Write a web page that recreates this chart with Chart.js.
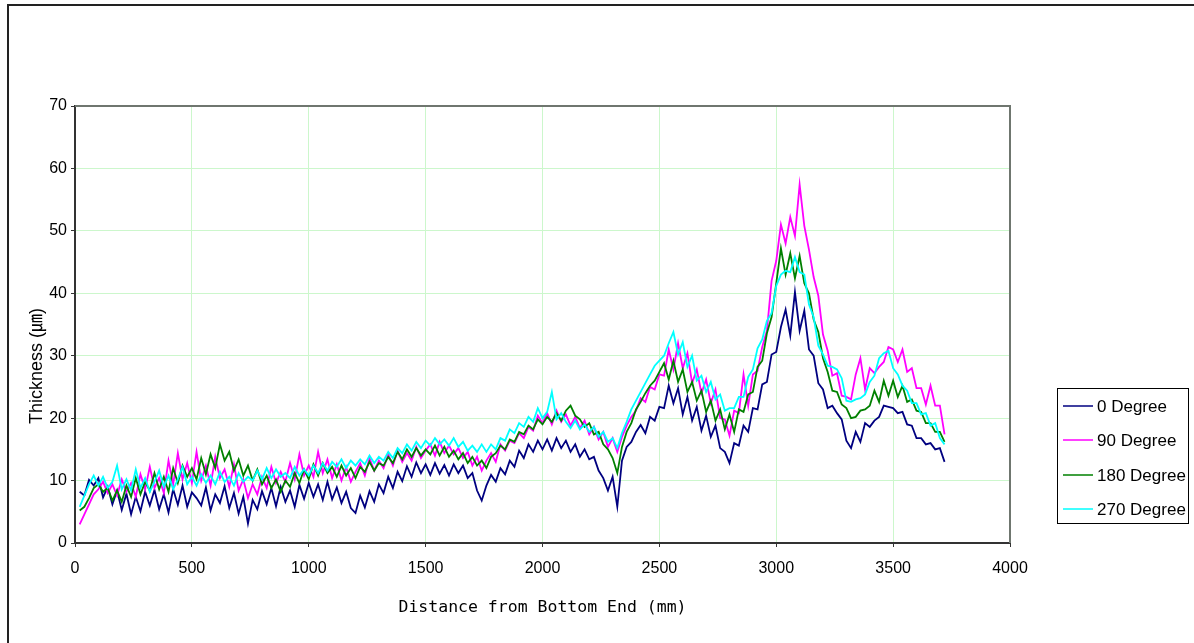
<!DOCTYPE html>
<html>
<head>
<meta charset="utf-8">
<script src="https://cdn.jsdelivr.net/npm/chart.js@4/dist/chart.umd.min.js"></script>
<style>
  html, body { margin: 0; padding: 0; background: #fff; }
  #wrap { position: relative; width: 1194px; height: 643px; }
</style>
</head>
<body>
<div id="wrap"><canvas id="c"></canvas></div>
<script>
// ---- data ----
const distances = [
  20,40,60,80,100,120,140,160,180,200,220,240,260,280,300,320,340,360,380,400,420,440,460,480,500,
  520,540,560,580,600,620,640,660,680,700,720,740,760,780,800,820,840,860,880,900,920,940,960,980,1000,
  1020,1040,1060,1080,1100,1120,1140,1160,1180,1200,1220,1240,1260,1280,1300,1320,1340,1360,1380,1400,1420,1440,1460,1480,1500,
  1520,1540,1560,1580,1600,1620,1640,1660,1680,1700,1720,1740,1760,1780,1800,1820,1840,1860,1880,1900,1920,1940,1960,1980,2000,
  2020,2040,2060,2080,2100,2120,2140,2160,2180,2200,2220,2240,2260,2280,2300,2320,2340,2360,2380,2400,2420,2440,2460,2480,2500,
  2520,2540,2560,2580,2600,2620,2640,2660,2680,2700,2720,2740,2760,2780,2800,2820,2840,2860,2880,2900,2920,2940,2960,2980,3000,
  3020,3040,3060,3080,3100,3120,3140,3160,3180,3200,3220,3240,3260,3280,3300,3320,3340,3360,3380,3400,3420,3440,3460,3480,3500,
  3520,3540,3560,3580,3600,3620,3640,3660,3680,3700,3720
];

const deg0 = [
  8.2,7.6,10.1,9.2,10.4,7.3,9.0,6.2,8.4,5.3,7.9,4.6,7.4,5.1,8.2,6.0,8.5,5.4,7.8,4.9,8.6,6.1,9.2,5.8,8.1,
  7.2,6.0,8.9,5.2,7.8,6.4,9.1,5.6,8.0,4.7,7.4,3.1,6.9,5.4,8.3,6.2,8.8,5.9,9.0,6.6,8.4,5.8,9.3,7.1,9.6,
  7.4,9.4,6.9,9.8,7.0,8.9,6.4,8.2,5.6,4.8,7.6,5.7,8.3,6.6,9.4,8.0,10.6,8.8,11.4,9.9,12.3,10.6,12.9,11.2,12.6,
  10.9,12.8,11.1,12.5,10.8,12.6,11.2,12.4,10.4,11.2,8.4,6.8,9.2,10.9,9.8,12.0,11.0,13.2,12.2,14.8,13.6,15.8,14.6,16.4,15.0,
  16.6,14.8,16.8,15.2,16.4,14.6,15.8,13.8,15.0,13.4,13.8,11.6,10.4,8.4,10.6,5.8,13.2,15.4,16.2,17.8,18.9,17.6,20.2,19.6,21.8,
  21.6,25.2,22.4,24.8,20.6,23.4,19.6,21.8,18.0,20.4,17.0,18.8,15.2,14.6,12.8,16.0,15.6,18.8,17.8,21.6,21.4,25.4,25.8,30.2,30.6,
  34.6,37.4,33.2,40.2,34.0,37.2,31.0,30.0,25.6,24.6,21.6,22.0,20.8,19.8,16.4,15.2,17.8,16.2,19.2,18.6,19.6,20.2,22.0,21.8,21.6,
  20.8,21.0,19.0,18.8,16.8,16.8,15.8,16.0,15.0,15.2,13.0
];

const deg90 = [
  3.0,4.6,6.2,7.8,8.6,9.8,8.0,9.4,7.6,10.2,8.2,9.6,7.4,11.0,8.6,12.2,8.8,10.4,8.0,13.2,9.4,14.4,10.2,12.8,9.6,
  14.6,10.0,12.4,9.2,13.8,10.4,11.8,9.0,12.6,8.4,10.2,7.2,9.4,7.8,10.6,8.8,12.2,9.6,11.4,9.8,12.8,10.2,14.2,10.8,12.4,
  10.6,14.6,11.2,13.4,10.4,12.6,10.0,12.2,9.8,11.4,12.8,10.8,13.6,11.6,13.2,12.0,14.2,12.4,14.8,13.0,14.4,13.2,15.4,13.6,14.8,
  15.8,14.0,16.2,14.4,15.6,14.2,15.2,13.6,14.6,12.4,13.8,11.6,13.2,14.4,13.0,15.8,14.8,16.4,16.0,17.6,16.8,18.6,18.0,20.4,19.2,
  20.8,19.0,21.2,19.4,20.6,18.8,20.2,18.4,19.6,17.4,18.6,16.6,17.8,15.4,16.8,14.6,17.0,18.8,20.2,21.2,23.2,22.6,25.0,24.6,27.0,
  26.8,31.0,27.8,32.0,28.0,30.4,25.6,27.8,24.0,26.2,22.4,24.6,20.0,19.8,17.2,21.2,20.8,27.0,22.0,27.0,27.6,31.4,34.0,42.0,45.2,
  51.0,48.0,52.2,49.2,57.4,50.8,47.0,42.6,39.6,33.4,30.8,26.8,27.2,23.6,23.4,23.0,27.0,29.6,24.6,28.0,27.2,28.2,29.0,31.4,31.0,
  29.0,31.0,27.4,28.0,24.8,24.8,22.2,25.2,22.0,22.0,17.4
];

const deg180 = [
  5.2,5.8,7.2,8.8,9.4,8.2,8.8,6.8,8.4,6.6,9.2,7.4,10.4,7.8,9.8,8.4,11.2,8.6,10.6,8.2,12.0,9.6,12.4,10.6,12.0,
  10.2,13.6,11.0,14.2,12.0,15.8,13.2,14.6,11.6,13.4,10.8,12.4,10.0,11.8,9.4,10.8,8.8,10.2,8.2,10.0,9.0,11.2,9.6,11.8,10.2,
  12.6,10.8,12.8,11.2,12.2,10.6,12.4,10.8,12.0,10.4,12.2,11.4,13.0,11.6,12.8,12.4,13.8,12.8,14.6,13.4,15.0,13.8,15.2,14.0,15.0,
  14.2,15.6,14.0,15.4,13.8,14.8,13.4,14.4,12.8,13.8,12.4,13.2,12.0,13.8,14.4,15.6,15.0,16.6,16.2,17.8,17.4,18.8,18.2,19.8,19.0,
  20.2,19.4,20.8,19.6,21.2,22.0,20.4,19.8,18.6,19.2,17.4,17.8,15.8,15.0,13.6,11.2,15.4,17.8,19.2,21.4,22.6,24.0,25.2,26.0,27.4,
  28.8,26.2,29.2,25.8,27.8,24.2,25.8,22.8,24.4,21.0,22.8,19.6,21.4,18.2,20.6,17.8,21.4,21.0,23.8,24.2,28.2,29.2,33.6,36.2,41.6,
  47.2,43.0,46.4,42.4,46.0,41.6,40.0,35.8,33.8,29.6,27.4,24.4,24.2,22.2,21.6,20.0,20.2,21.2,21.4,22.0,24.4,22.6,26.0,23.6,26.0,
  23.4,25.2,22.6,23.0,21.2,21.0,19.2,19.2,17.8,17.8,16.2
];

const deg270 = [
  5.8,7.6,9.4,10.8,9.2,10.6,8.8,9.8,12.4,8.6,10.2,8.4,11.8,8.8,10.4,8.2,9.8,11.6,9.0,10.8,8.6,10.2,12.2,9.4,10.6,
  9.2,11.0,9.6,10.8,9.4,11.4,9.8,10.6,9.2,11.2,9.8,10.6,10.0,11.6,10.2,12.0,10.4,11.8,10.6,11.2,10.4,12.2,10.8,11.8,10.8,
  12.4,11.2,12.8,11.6,13.0,12.2,13.4,12.0,13.2,12.4,13.4,12.6,14.0,12.8,13.8,13.2,14.6,13.6,15.2,14.4,15.8,14.8,16.2,15.2,16.4,
  15.6,16.8,15.8,16.6,15.6,16.8,15.4,16.2,14.8,15.6,14.6,15.8,14.6,15.8,15.0,16.8,16.4,18.2,17.6,19.2,18.6,20.2,19.4,21.6,20.0,
  21.0,24.2,19.8,20.8,19.4,18.4,19.6,18.2,19.0,17.8,18.6,17.0,17.8,16.2,16.8,15.2,17.6,19.4,21.4,22.8,24.2,25.6,27.0,28.4,29.2,
  30.0,32.0,33.8,30.2,32.2,28.2,30.0,26.0,26.8,24.2,25.8,23.0,23.8,21.2,21.6,21.6,23.4,23.4,26.6,27.8,31.2,32.6,35.6,36.8,41.2,
  43.0,43.6,43.4,45.8,43.4,43.0,38.2,36.2,31.6,30.2,28.4,28.2,27.8,26.4,22.8,22.6,23.0,23.2,23.8,25.8,26.8,29.6,30.4,30.8,28.0,
  27.0,25.2,24.4,22.4,22.4,20.6,20.8,18.8,19.2,16.8,15.8
];

const seriesNames = ['0 Degree', '90 Degree', '180 Degree', '270 Degree'];
const seriesColors = ['#000080', '#FF00FF', '#008000', '#00FFFF'];
const seriesValues = [deg0, deg90, deg180, deg270];

const xTitle = 'Distance from Bottom End (mm)';
const yTitle = 'Thickness (\u339B)';

// ---- build datasets ----
const datasets = seriesValues.map((vals, s) => ({
  label: seriesNames[s],
  data: distances.map((d, i) => ({ x: d, y: vals[i] })),
  borderColor: seriesColors[s],
  backgroundColor: seriesColors[s],
  borderWidth: 1.8,
  pointRadius: 0,
  tension: 0,
  fill: false,
  order: 4 - s
}));

const decorPlugin = {
  id: 'decor',
  afterDatasetsDraw(chart) {
    const { ctx, chartArea: a } = chart;
    ctx.save();
    ctx.strokeStyle = '#6f766f';
    ctx.lineWidth = 2;
    ctx.beginPath();
    ctx.moveTo(a.left, a.top);
    ctx.lineTo(a.right, a.top);
    ctx.lineTo(a.right, a.bottom);
    ctx.stroke();
    ctx.restore();
  },
  afterDraw(chart) {
    const { ctx } = chart;
    ctx.save();
    // outer frame
    ctx.fillStyle = '#222';
    ctx.fillRect(7, 4, 1194 - 7, 2);
    ctx.fillRect(7, 4, 2, 643 - 4);

    // y axis title
    ctx.save();
    ctx.translate(37, 366);
    ctx.rotate(-Math.PI / 2);
    ctx.fillStyle = '#000';
    ctx.font = "18px 'Liberation Sans', 'Noto Sans CJK KR', sans-serif";
    ctx.textAlign = 'center';
    ctx.textBaseline = 'middle';
    ctx.fillText(yTitle, 0, 0);
    ctx.restore();

    // legend box
    const bx = 1057, by = 388, bw = 131, bh = 135;
    ctx.strokeStyle = '#000';
    ctx.lineWidth = 1;
    ctx.strokeRect(bx + 0.5, by + 0.5, bw, bh);
    const rowY = [406, 440, 475, 509];
    ctx.font = "17px 'Liberation Sans', sans-serif";
    ctx.textBaseline = 'middle';
    ctx.textAlign = 'left';
    chart.data.datasets.forEach((ds, i) => {
      const y = rowY[i];
      ctx.strokeStyle = ds.borderColor;
      ctx.lineWidth = 1.5;
      ctx.beginPath();
      ctx.moveTo(bx + 6, y);
      ctx.lineTo(bx + 36, y);
      ctx.stroke();
      ctx.fillStyle = '#000';
      ctx.fillText(ds.label, bx + 40, y + 1);
    });
    ctx.restore();
  }
};

const tickFont = { family: "'Liberation Sans', sans-serif", size: 16 };

new Chart(document.getElementById('c'), {
  type: 'line',
  data: { datasets },
  options: {
    responsive: true,
    maintainAspectRatio: false,
    animation: false,
    layout: { padding: { top: 106, right: 184, left: 0, bottom: 0 } },
    plugins: {
      legend: { display: false },
      tooltip: { enabled: false }
    },
    scales: {
      x: {
        type: 'linear',
        min: 0, max: 4000,
        ticks: { stepSize: 500, color: '#000', font: tickFont, padding: 12, maxRotation: 0,
                 callback: (v) => String(v) },
        grid: { color: '#ccf7cc', lineWidth: 1, tickColor: '#333', tickLength: 4 },
        border: { color: '#333', width: 2 },
        title: {
          display: true, text: xTitle, color: '#000',
          font: { family: "'DejaVu Sans Mono', monospace", size: 16.5 },
          padding: { top: 0, bottom: 25 }
        },
        afterFit(s) { s.height = 100; }
      },
      y: {
        min: 0, max: 70,
        ticks: { stepSize: 10, color: '#000', font: tickFont, padding: 4,
                 callback: (v) => String(v) },
        grid: { color: '#ccf7cc', lineWidth: 1, tickColor: '#333', tickLength: 4 },
        border: { color: '#333', width: 2 },
        title: { display: false, text: yTitle },
        afterFit(s) { s.width = 75; }
      }
    }
  },
  plugins: [decorPlugin]
});
</script>
</body>
</html>
